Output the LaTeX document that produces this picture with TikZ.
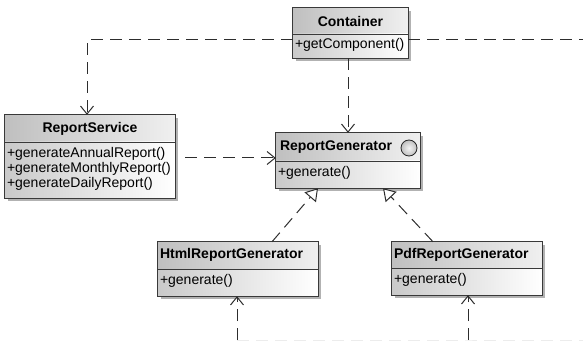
\documentclass[tikz,border=0pt]{standalone}
\usepackage{fontspec}
\setmainfont{Liberation Sans}
\usetikzlibrary{arrows.meta,shadows}

\begin{document}
\begin{tikzpicture}[x=1pt,y=-1pt,
  box/.style={rectangle,inner sep=0pt,fill=white,
    drop shadow={shadow xshift=3pt,shadow yshift=-3pt,fill=gray!60,opacity=1}},
  titleshade/.style={left color=gray!50,right color=gray!12},
  bodyshade/.style={left color=gray!42,right color=white},
  border/.style={draw=gray!45!black,line width=0.8pt},
  titletext/.style={font=\fontsize{14}{15}\selectfont\bfseries,inner sep=0pt},
  methtext/.style={font=\fontsize{14}{15}\selectfont,inner sep=0pt,align=left,anchor=north west},
  dep/.style={draw=gray!35!black,line width=1pt,dash pattern=on 12pt off 7pt,
    -{Straight Barb[length=8pt,width=13pt]}},
  real/.style={draw=gray!35!black,line width=1pt,dash pattern=on 12pt off 7pt,
    -{Triangle[open,length=12pt,width=15pt,fill=white]}},
  ]
\useasboundingbox (0,0) rectangle (583,347);

% Container
\node[box,minimum width=115pt,minimum height=50pt] (cont) at (350.5,33) {};
\fill[titleshade] (cont.north west) rectangle (cont.east |- 0,34);
\fill[bodyshade] (cont.west |- 0,34) rectangle (cont.south east);
\draw[border] (cont.north west) rectangle (cont.south east);
\draw[border] (cont.west |- 0,34) -- (cont.east |- 0,34);
\node[titletext] (contT) at (cont.north |- 0,21) {Container};
\node[methtext] (contM) at ([xshift=2pt]cont.west |- 0,38) {+getComponent()};

% ReportService
\node[box,minimum width=170pt,minimum height=83pt] (rs) at (90,156.5) {};
\fill[titleshade] (rs.north west) rectangle (rs.east |- 0,142);
\fill[bodyshade] (rs.west |- 0,142) rectangle (rs.south east);
\draw[border] (rs.north west) rectangle (rs.south east);
\draw[border] (rs.west |- 0,142) -- (rs.east |- 0,142);
\node[titletext] (rsT) at (rs.north |- 0,129) {ReportService};
\node[methtext] (rsM) at ([xshift=2pt]rs.west |- 0,147)
  {+generateAnnualReport()\\+generateMonthlyReport()\\+generateDailyReport()};

% ReportGenerator
\node[box,minimum width=144pt,minimum height=55pt] (rg) at (348,160.5) {};
\fill[titleshade] (rg.north west) rectangle (rg.east |- 0,161);
\fill[bodyshade] (rg.west |- 0,161) rectangle (rg.south east);
\draw[border] (rg.north west) rectangle (rg.south east);
\draw[border] (rg.west |- 0,161) -- (rg.east |- 0,161);
\node[titletext,anchor=west] (rgT) at ([xshift=4pt]rg.west |- 0,147) {ReportGenerator};
\node[circle,draw=gray!30!black,line width=0.8pt,inner color=gray!8,outer color=gray!50,
  minimum size=16pt,inner sep=0pt] (rgI) at (409,148) {};
\node[methtext] (rgM) at ([xshift=2pt]rg.west |- 0,166) {+generate()};

% HtmlReportGenerator
\node[box,minimum width=160pt,minimum height=54pt] (html) at (238,269) {};
\fill[titleshade] (html.north west) rectangle (html.east |- 0,269);
\fill[bodyshade] (html.west |- 0,269) rectangle (html.south east);
\draw[border] (html.north west) rectangle (html.south east);
\draw[border] (html.west |- 0,269) -- (html.east |- 0,269);
\node[titletext,anchor=west] (htmlT) at ([xshift=2pt]html.west |- 0,255) {HtmlReportGenerator};
\node[methtext] (htmlM) at ([xshift=2pt]html.west |- 0,274) {+generate()};

% PdfReportGenerator
\node[box,minimum width=150pt,minimum height=53pt] (pdf) at (467,268.5) {};
\fill[titleshade] (pdf.north west) rectangle (pdf.east |- 0,268);
\fill[bodyshade] (pdf.west |- 0,268) rectangle (pdf.south east);
\draw[border] (pdf.north west) rectangle (pdf.south east);
\draw[border] (pdf.west |- 0,268) -- (pdf.east |- 0,268);
\node[titletext,anchor=west] (pdfT) at ([xshift=2pt]pdf.west |- 0,255) {PdfReportGenerator};
\node[methtext] (pdfM) at ([xshift=2pt]pdf.west |- 0,273) {+generate()};

% loose ends
\coordinate (exitR) at (583,40);
\coordinate (htmlB) at (237,340);
\coordinate (pdfB) at (468,340);
\coordinate (exitB) at (583,340);

% connectors
\draw[dep] ([yshift=-7pt]cont.west) -| ([xshift=-3pt]rs.north);
\draw[dep,-] ([yshift=-7pt]cont.east) -- (exitR);
\draw[dep] (rg.north |- cont.south) -- (rg.north);
\draw[dep,shorten <=10pt] ([yshift=-1.5pt]rs.east) -- (rg.west |- 0,158);
\draw[real] ([xshift=34pt]html.north) -- ([xshift=-30pt]rg.south);
\draw[real] ([xshift=-34pt]pdf.north) -- ([xshift=35pt]rg.south);
\draw[dep] (htmlB) -- (htmlB |- html.south);
\draw[dep] (pdfB) -- (pdfB |- pdf.south);
\draw[draw=gray!15,line width=1pt,dash pattern=on 12pt off 7pt] (htmlB) -- (pdfB) -- (exitB);
\end{tikzpicture}
\end{document}
